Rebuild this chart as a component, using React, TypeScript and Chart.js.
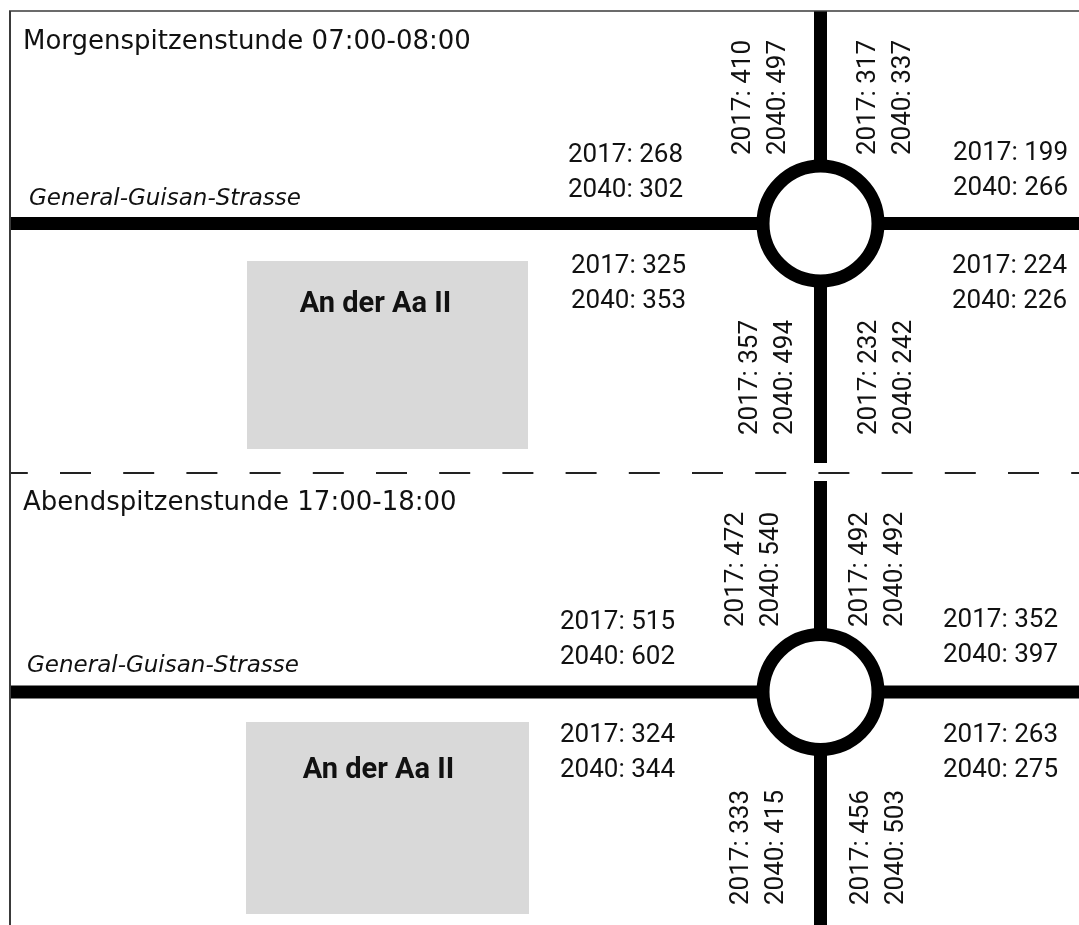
import React, { useEffect, useRef } from 'react';
import { Chart, registerables } from 'chart.js';

Chart.register(...registerables);

// ---------- data ----------
const periodTitles = ['Morgenspitzenstunde 07:00-08:00', 'Abendspitzenstunde 17:00-18:00'];
const streetName = 'General-Guisan-Strasse';
const siteName = 'An der Aa II';
const years = ['2017', '2040'];
// order: W-oben, O-oben, W-unten, O-unten, N-links, N-rechts, S-links, S-rechts
const approaches = ['W-oben', 'O-oben', 'W-unten', 'O-unten', 'N-links', 'N-rechts', 'S-links', 'S-rechts'];
const morgen2017 = [268, 199, 325, 224, 410, 317, 357, 232];
const morgen2040 = [302, 266, 353, 226, 497, 337, 494, 242];
const abend2017 = [515, 352, 324, 263, 472, 492, 333, 456];
const abend2040 = [602, 397, 344, 275, 540, 492, 415, 503];

// ---------- layout ----------
const W = 1079;
const H = 925;
const ROAD_W = 13;
const RING_R = 57.5;
const LINE_GAP = 35;
const NUM_FONT = '26px Roboto';
const NUM_CAP = 26 * 0.711;

const panels = [
  {
    title: periodTitles[0],
    v2017: morgen2017,
    v2040: morgen2040,
    cx: 820.5,
    cy: 223.5,
    vTop: 11,
    vBottom: 463,
    titlePos: [23, 48.5],
    streetPos: [29, 205],
    box: [247, 261, 528, 449],
    sitePos: [375.5, 311.5],
    hPos: [[568, 152.5], [953, 150.5], [571, 264], [952, 264]],
    vPos: [[741, 155], [866, 155], [748, 435], [867, 435]],
  },
  {
    title: periodTitles[1],
    v2017: abend2017,
    v2040: abend2040,
    cx: 820.5,
    cy: 692,
    vTop: 481,
    vBottom: H,
    titlePos: [23, 509.5],
    streetPos: [27, 671.5],
    box: [246, 722, 529, 914],
    sitePos: [378.5, 778],
    hPos: [[560, 620], [943, 618], [560, 733], [943, 733]],
    vPos: [[734, 627], [858, 627], [739, 905], [859, 905]],
  },
];
const DASH_Y = 473;

function lineDs(points: number[][], width: number, color: string, extra: any = {}) {
  return {
    type: 'scatter',
    data: points.map(([x, y]) => ({ x, y })),
    showLine: true,
    borderColor: color,
    borderWidth: width,
    borderCapStyle: 'butt',
    pointRadius: 0,
    pointHoverRadius: 0,
    clip: false,
    order: 2,
    ...extra,
  };
}

export default function App() {
  const ref = useRef<HTMLCanvasElement>(null);

  useEffect(() => {
    document.body.style.margin = '0';
    const canvas = ref.current!;
    const datasets: any[] = [];

    // frame
    datasets.push(lineDs([[9, 11], [W, 11]], 1.5, '#3a3a3a'));
    datasets.push(lineDs([[10, 11], [10, H]], 2, '#3a3a3a'));

    panels.forEach((p) => {
      datasets.push(lineDs([[11, p.cy], [W, p.cy]], ROAD_W, '#000'));
      datasets.push(lineDs([[p.cx, p.vTop], [p.cx, p.vBottom]], ROAD_W, '#000'));
      datasets.push({
        type: 'scatter',
        data: [{ x: p.cx, y: p.cy }],
        pointRadius: RING_R,
        pointHoverRadius: RING_R,
        pointBorderWidth: ROAD_W,
        pointHoverBorderWidth: ROAD_W,
        pointBackgroundColor: '#fff',
        pointBorderColor: '#000',
        clip: false,
        order: 0,
      });
    });

    datasets.push(
      lineDs([[11, DASH_Y], [W, DASH_Y]], 2, '#222', {
        borderDash: [31, 32.2],
        borderDashOffset: 14.2,
      })
    );

    const diagramPlugin = {
      id: 'diagramText',
      beforeDatasetsDraw(chart: any) {
        const ctx = chart.ctx;
        const sx = chart.scales.x;
        const sy = chart.scales.y;
        ctx.save();
        ctx.fillStyle = '#d9d9d9';
        panels.forEach((p) => {
          const [x0, y0, x1, y1] = p.box;
          const a = sx.getPixelForValue(x0);
          const b = sy.getPixelForValue(y0);
          ctx.fillRect(a, b, sx.getPixelForValue(x1) - a, sy.getPixelForValue(y1) - b);
        });
        ctx.restore();
      },
      afterDatasetsDraw(chart: any) {
        const ctx = chart.ctx;
        const sx = chart.scales.x;
        const sy = chart.scales.y;
        const X = (v: number) => sx.getPixelForValue(v);
        const Y = (v: number) => sy.getPixelForValue(v);
        ctx.save();
        ctx.fillStyle = '#111';
        ctx.textBaseline = 'alphabetic';
        panels.forEach((p) => {
          ctx.textAlign = 'left';
          ctx.font = '26px "DejaVu Sans"';
          ctx.fillText(p.title, X(p.titlePos[0]), Y(p.titlePos[1]));
          ctx.font = 'italic 23px "DejaVu Sans"';
          ctx.fillText(streetName, X(p.streetPos[0]), Y(p.streetPos[1]));
          ctx.textAlign = 'center';
          ctx.font = 'bold 29px Roboto';
          ctx.fillText(siteName, X(p.sitePos[0]), Y(p.sitePos[1]));

          ctx.textAlign = 'left';
          ctx.font = NUM_FONT;
          approaches.forEach((_, i) => {
            const l1 = `${years[0]}: ${p.v2017[i]}`;
            const l2 = `${years[1]}: ${p.v2040[i]}`;
            if (i < 4) {
              const [x, y] = p.hPos[i];
              ctx.fillText(l1, X(x), Y(y) + NUM_CAP / 2);
              ctx.fillText(l2, X(x), Y(y + LINE_GAP) + NUM_CAP / 2);
            } else {
              const [x, yb] = p.vPos[i - 4];
              [l1, l2].forEach((t, k) => {
                ctx.save();
                ctx.translate(X(x + k * LINE_GAP), Y(yb));
                ctx.rotate(-Math.PI / 2);
                ctx.fillText(t, 0, NUM_CAP / 2);
                ctx.restore();
              });
            }
          });
        });
        ctx.restore();
      },
    };

    const chart = new Chart(canvas, {
      type: 'scatter',
      data: { datasets },
      options: {
        responsive: false,
        maintainAspectRatio: false,
        animation: false,
        events: [],
        layout: { padding: 0, autoPadding: false },
        plugins: { legend: { display: false }, tooltip: { enabled: false } },
        scales: {
          x: { type: 'linear', min: 0, max: W, display: false },
          y: { type: 'linear', min: 0, max: H, reverse: true, display: false },
        },
      },
      plugins: [diagramPlugin],
    } as any);

    return () => chart.destroy();
  }, []);

  return (
    <div style={{ width: W, height: H, background: '#fff' }}>
      <canvas ref={ref} width={W} height={H} style={{ display: 'block', width: W, height: H }} />
    </div>
  );
}
